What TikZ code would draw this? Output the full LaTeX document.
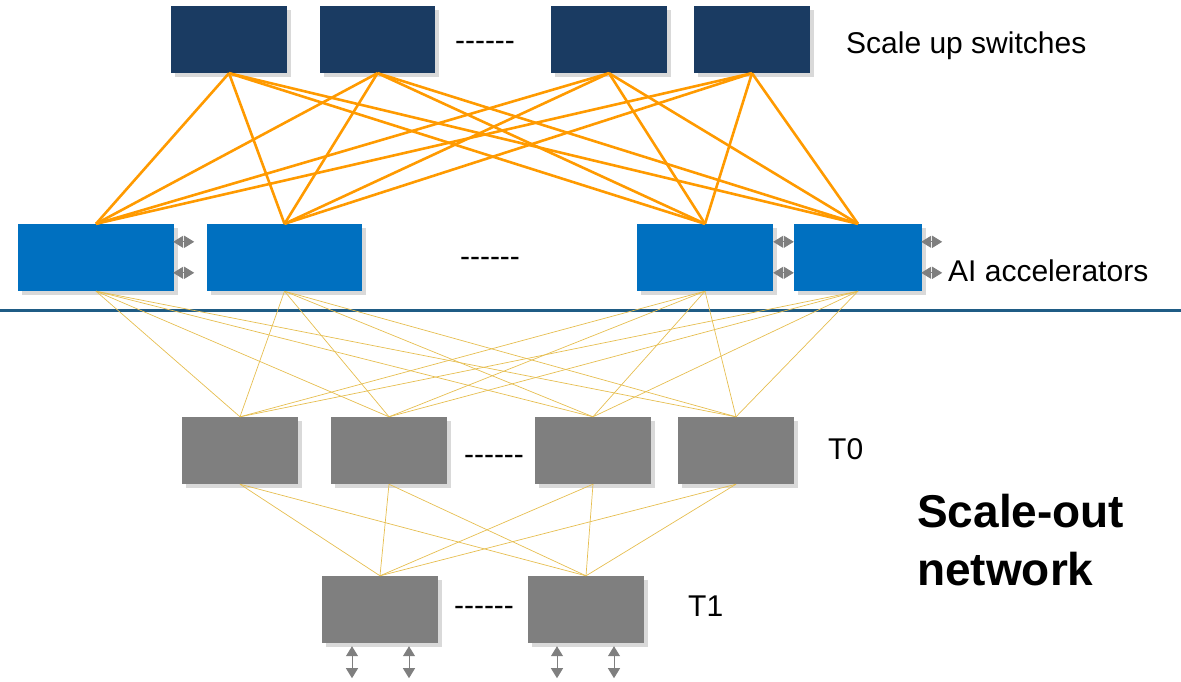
\documentclass[tikz,border=0pt]{standalone}
\usepackage{fontspec}
\setmainfont{Liberation Sans}[Ligatures=NoCommon]
\usetikzlibrary{shadows,calc,arrows.meta}
\definecolor{swblue}{HTML}{1A3B62}
\definecolor{accblue}{HTML}{0070C0}
\definecolor{boxgray}{HTML}{7F7F7F}
\definecolor{uplink}{HTML}{FF9A00}
\definecolor{thinlink}{HTML}{E6BE50}
\definecolor{divider}{HTML}{1F5C85}
\definecolor{arrgray}{HTML}{7F7F7F}
\tikzset{
  box/.style={rectangle, inner sep=0pt, minimum height=67pt,
    drop shadow={opacity=0.3, shadow xshift=4pt, shadow yshift=-4pt}},
  swbox/.style={box, fill=swblue},
  accbox/.style={box, fill=accblue},
  grbox/.style={box, fill=boxgray},
  uplk/.style={draw=uplink, line width=2.6pt},
  thin/.style={draw=thinlink, line width=0.7pt},
  lbl/.style={font=\fontsize{30}{34}\selectfont, anchor=west, inner sep=0pt},
  dots/.style={font=\fontsize{30}{34}\selectfont, inner sep=0pt},
  sidearrow/.style={draw=arrgray, line width=1pt, {Stealth[length=10pt,width=12pt,inset=0pt]}-{Stealth[length=10pt,width=12pt,inset=0pt]}, fill=arrgray},
  botarrow/.style={draw=arrgray, line width=1pt, {Stealth[length=10pt,width=12pt,inset=0pt]}-{Stealth[length=10pt,width=12pt,inset=0pt]}, fill=arrgray},
}
\newcommand{\dashrow}{{-}{-}{-}{-}{-}{-}}
\begin{document}
\begin{tikzpicture}[x=1pt,y=-1pt]
\useasboundingbox (0,0) rectangle (1181,681);
% scale up switches
\node[swbox, minimum width=116pt] (S1) at (229,39.5) {};
\node[swbox, minimum width=115pt] (S2) at (377.5,39.5) {};
\node[swbox, minimum width=116pt] (S3) at (609,39.5) {};
\node[swbox, minimum width=116pt] (S4) at (752,39.5) {};
\node[dots] (d1) at (485,46) {\dashrow};
\node[lbl] (lsw) at (846,46) {Scale up switches};
% accelerators
\node[accbox, minimum width=156pt] (A1) at (96,257.5) {};
\node[accbox, minimum width=155pt] (A2) at (284.5,257.5) {};
\node[accbox, minimum width=136pt] (A3) at (705,257.5) {};
\node[accbox, minimum width=128pt] (A4) at (858,257.5) {};
\node[dots] (d2) at (490,262) {\dashrow};
\node[lbl] (lacc) at (948,271) {AI accelerators};
% orange links
\foreach \s in {S1,S2,S3,S4}{
  \foreach \a in {A1,A2,A3,A4}{
    \draw[uplk] (\s.south) -- (\a.north);
  }
}
% side arrows
\foreach \a in {A1, A4}{
  \draw[sidearrow] ($(\a.north east)+(-1,18)$) -- ($(\a.north east)+(20,18)$);
  \draw[sidearrow] ($(\a.north east)+(-1,49)$) -- ($(\a.north east)+(20,49)$);
}
\draw[sidearrow] ($(A3.north east)+(0,18)$) -- ($(A4.north west)+(0,18)$);
\draw[sidearrow] ($(A3.north east)+(0,49)$) -- ($(A4.north west)+(0,49)$);
% divider
\coordinate (L0) at (0,310);
\coordinate (L1) at (1181,310);
\draw[divider, line width=3pt] (L0) -- (L1);
% T0
\node[grbox, minimum width=116pt] (T0a) at (240,450.5) {};
\node[grbox, minimum width=116pt] (T0b) at (389,450.5) {};
\node[grbox, minimum width=116pt] (T0c) at (593,450.5) {};
\node[grbox, minimum width=116pt] (T0d) at (736,450.5) {};
\node[dots] (d3) at (494,460) {\dashrow};
\node[lbl] (lt0) at (828,449) {T0};
% T1
\node[grbox, minimum width=116pt] (T1a) at (380,609.5) {};
\node[grbox, minimum width=116pt] (T1b) at (586,609.5) {};
\node[dots] (d4) at (484,611) {\dashrow};
\node[lbl] (lt1) at (688,606) {T1};
% thin links
\foreach \a in {A1,A2,A3,A4}{
  \foreach \t in {T0a,T0b,T0c,T0d}{
    \draw[thin] (\a.south) -- (\t.north);
  }
}
\foreach \t in {T0a,T0b,T0c,T0d}{
  \foreach \u in {T1a,T1b}{
    \draw[thin] (\t.south) -- (\u.north);
  }
}
% bottom arrows
\foreach \u/\dx in {T1a/-28, T1a/29, T1b/-29, T1b/28}{
  \draw[botarrow] ($(\u.south)+(\dx,3)$) -- ($(\u.south)+(\dx,35)$);
}
% scale-out label
\node[font=\bfseries\fontsize{46}{58}\selectfont, align=left, anchor=north west, inner sep=0pt] (so) at (917,494) {Scale-out\\network};
\end{tikzpicture}
\end{document}
